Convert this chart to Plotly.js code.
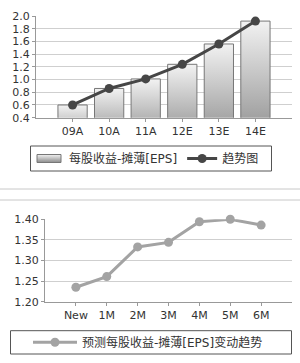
<!DOCTYPE html>
<html>
<head>
<meta charset="utf-8">
<script src="https://cdn.plot.ly/plotly-3.0.1.min.js"></script>
<style>
html,body{margin:0;padding:0;background:#fff;}
#chart{width:300px;height:363px;}
</style>
</head>
<body>
<div id="chart"></div>
<script>
// ---- data ----
var years = ['09A', '10A', '11A', '12E', '13E', '14E'];
var epsValues = [0.60, 0.86, 1.01, 1.24, 1.56, 1.92];
var trendValues = [0.60, 0.86, 1.01, 1.24, 1.56, 1.92];
var months = ['New', '1M', '2M', '3M', '4M', '5M', '6M'];
var forecastValues = [1.235, 1.261, 1.333, 1.344, 1.394, 1.400, 1.386];
var barName = '每股收益-摊薄[EPS]';
var trendName = '趋势图';
var forecastName = '预测每股收益-摊薄[EPS]变动趋势';

var FONT = 'DejaVu Sans, Noto Sans CJK SC, sans-serif';
var H = 363, W = 300;
function py(p){ return 1 - p / H; }
function px(p){ return p / W; }

var traces = [
  {type:'bar', x: years, y: epsValues, name: barName, width: 0.8,
   marker:{color:'#c4c4c4', line:{color:'#777', width:1}},
   xaxis:'x', yaxis:'y', legend:'legend', hoverinfo:'none'},
  {type:'scatter', mode:'lines+markers', x: years, y: trendValues, name: trendName,
   line:{color:'#464646', width:3}, marker:{color:'#464646', size:9},
   xaxis:'x', yaxis:'y', legend:'legend', hoverinfo:'none'},
  {type:'scatter', mode:'lines+markers', x: months, y: forecastValues, name: forecastName,
   line:{color:'#a3a3a3', width:3}, marker:{color:'#a3a3a3', size:9},
   xaxis:'x2', yaxis:'y2', legend:'legend2', hoverinfo:'none', cliponaxis:false}
];

var axFont = {family: FONT, size: 11, color: '#333'};
var layout = {
  width: W, height: H,
  margin:{l:0, r:0, t:0, b:0},
  paper_bgcolor:'#fff', plot_bgcolor:'#fff',
  showlegend: true,
  xaxis:{domain:[px(36), px(292)], type:'category', range:[-1, 6], automargin:false,
    showline:true, linecolor:'#999', linewidth:1, ticks:'outside', ticklen:3, tickcolor:'#999',
    showgrid:false, tickfont:axFont, anchor:'y'},
  yaxis:{domain:[py(117.7), py(16)], range:[0.4, 2.0], dtick:0.2, tickformat:'.1f', automargin:false,
    showline:true, linecolor:'#999', linewidth:1, ticks:'outside', ticklen:3, tickcolor:'#999',
    gridcolor:'#cfcfcf', gridwidth:1, zeroline:false, tickfont:axFont, anchor:'x'},
  xaxis2:{domain:[px(45), px(292)], type:'category', range:[-1, 7], automargin:false,
    showline:true, linecolor:'#999', linewidth:1, ticks:'outside', ticklen:3, tickcolor:'#999',
    showgrid:false, tickfont:axFont, anchor:'y2'},
  yaxis2:{domain:[py(301.7), py(219.3)], range:[1.2, 1.4], dtick:0.05, tickformat:'.2f', automargin:false,
    showline:true, linecolor:'#999', linewidth:1, ticks:'outside', ticklen:3, tickcolor:'#999',
    gridcolor:'#cfcfcf', gridwidth:1, zeroline:false, tickfont:axFont, anchor:'x2'},
  legend:{orientation:'h', x:px(29), xanchor:'left', y:py(158.5), yanchor:'middle',
    borderwidth:0, bgcolor:'rgba(0,0,0,0)', itemwidth:30,
    font:{family: FONT, size:12, color:'#333'}},
  legend2:{orientation:'h', x:px(28), xanchor:'left', y:py(342.3), yanchor:'middle',
    borderwidth:0, bgcolor:'rgba(0,0,0,0)', itemwidth:44,
    font:{family: FONT, size:12, color:'#333'}},
  shapes:[
    {type:'line', xref:'paper', yref:'paper', x0:0, x1:1, y0:py(189), y1:py(189), line:{color:'#c8c8c8', width:1}},
    {type:'line', xref:'paper', yref:'paper', x0:0, x1:1, y0:py(200), y1:py(200), line:{color:'#c8c8c8', width:1}},
    {type:'rect', xref:'paper', yref:'paper', x0:px(30.5), x1:px(271.5), y0:py(171), y1:py(146), line:{color:'#555', width:1}, fillcolor:'rgba(0,0,0,0)'},
    {type:'rect', xref:'paper', yref:'paper', x0:px(10.5), x1:px(291.5), y0:py(354), y1:py(330.7), line:{color:'#555', width:1}, fillcolor:'rgba(0,0,0,0)'}
  ]
};

function applyGradient(gd){
  var svg = gd.querySelector('svg.main-svg');
  var ns = 'http://www.w3.org/2000/svg';
  if (!document.getElementById('barGrad')) {
    var defs = svg.querySelector('defs') || svg.insertBefore(document.createElementNS(ns,'defs'), svg.firstChild);
    var grad = document.createElementNS(ns, 'linearGradient');
    grad.setAttribute('id', 'barGrad');
    grad.setAttribute('x1','0'); grad.setAttribute('y1','0');
    grad.setAttribute('x2','0'); grad.setAttribute('y2','1');
    var s1 = document.createElementNS(ns,'stop'); s1.setAttribute('offset','0'); s1.setAttribute('stop-color','#f2f2f2');
    var s2 = document.createElementNS(ns,'stop'); s2.setAttribute('offset','1'); s2.setAttribute('stop-color','#8c8c8c');
    grad.appendChild(s1); grad.appendChild(s2);
    defs.appendChild(grad);
  }
  gd.querySelectorAll('.bars .point path').forEach(function(p){ p.style.fill = 'url(#barGrad)'; });
  gd.querySelectorAll('g.traces').forEach(function(t){
    var txt = t.querySelector('text.legendtext');
    if (txt && txt.textContent === barName) {
      t.querySelectorAll('.legendpoints path').forEach(function(p){
        p.style.fill = 'url(#barGrad)';
        p.setAttribute('d', 'M12,4H-12V-4H12Z');
      });
    }
  });
}

Plotly.newPlot('chart', traces, layout, {staticPlot:true, displayModeBar:false}).then(function(gd){
  applyGradient(gd);
  setTimeout(function(){ applyGradient(gd); }, 30);
});
</script>
</body>
</html>
